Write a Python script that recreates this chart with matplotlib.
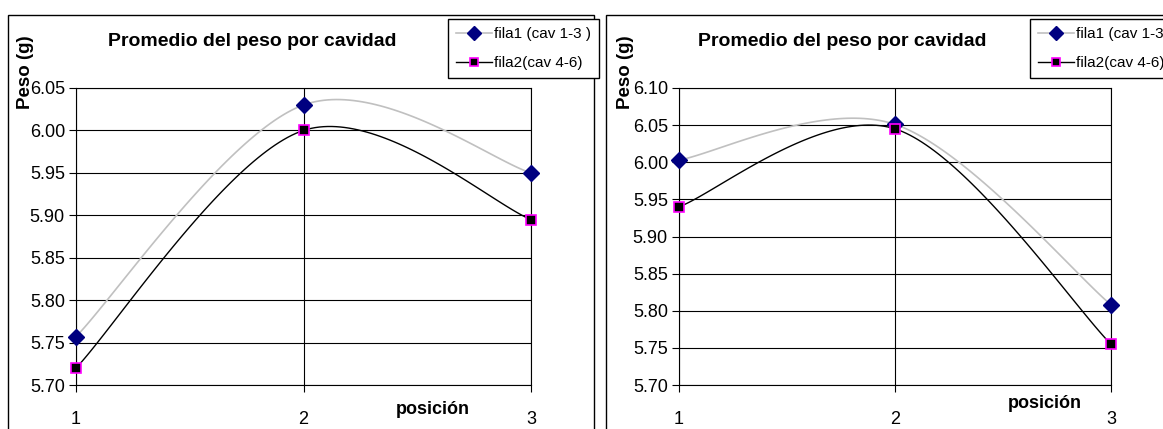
import numpy as np
import matplotlib
matplotlib.use("Agg")
import matplotlib.pyplot as plt
from matplotlib.lines import Line2D
from matplotlib.patches import Rectangle

plt.rcParams['font.family'] = ['Liberation Sans', 'DejaVu Sans']

# ---- data -------------------------------------------------------------
positions = [1, 2, 3]
series_names = ["fila1 (cav 1-3 )", "fila2(cav 4-6)"]

left_fila1 = [5.757, 6.030, 5.950]
left_fila2 = [5.720, 6.000, 5.895]

right_fila1 = [6.003, 6.051, 5.808]
right_fila2 = [5.940, 6.045, 5.755]

left_yticks = [5.70, 5.75, 5.80, 5.85, 5.90, 5.95, 6.00, 6.05]
right_yticks = [5.70, 5.75, 5.80, 5.85, 5.90, 5.95, 6.00, 6.05, 6.10]

title = "Promedio del peso por cavidad"
ylabel = "Peso (g)"
xlabel = "posición"

# ---- figure -----------------------------------------------------------
W, H = 1163, 429
fig = plt.figure(figsize=(W / 100, H / 100), dpi=100)
fig.patch.set_facecolor("white")


def px_rect(x0, y0, x1, y1):
    """Pixel box (top-left origin) -> figure-fraction [l, b, w, h]."""
    return [x0 / W, 1 - y1 / H, (x1 - x0) / W, (y1 - y0) / H]


def smooth(ax, x, y, n=60):
    """Cardinal (Catmull-Rom) Bezier smoothing done in display space."""
    pts = ax.transData.transform(np.column_stack([x, y]))
    P = np.vstack([pts[0], pts, pts[-1]])
    t = np.linspace(0, 1, n)[:, None]
    segs = []
    for i in range(1, len(P) - 2):
        p0, p1, p2, p3 = P[i - 1], P[i], P[i + 1], P[i + 2]
        c1 = p1 + (p2 - p0) / 6
        c2 = p2 - (p3 - p1) / 6
        segs.append((1 - t) ** 3 * p1 + 3 * (1 - t) ** 2 * t * c1
                    + 3 * (1 - t) * t ** 2 * c2 + t ** 3 * p2)
    curve = ax.transData.inverted().transform(np.vstack(segs))
    return curve[:, 0], curve[:, 1]


def panel(frame_box, plot_box, s1, s2, yticks, title_x, ylab_x,
          legend_box, xlab_pos):
    # outer chart frame
    fx0, fy0, fx1, fy1 = frame_box
    fig.patches.append(Rectangle((fx0 / W, 1 - fy1 / H), (fx1 - fx0) / W,
                                 (fy1 - fy0) / H, transform=fig.transFigure,
                                 fill=False, edgecolor="black", lw=1.0))

    ax = fig.add_axes(px_rect(*plot_box))
    ax.set_facecolor("white")
    ax.set_xlim(positions[0], positions[-1])
    ax.set_ylim(yticks[0], yticks[-1])
    ax.set_yticks(yticks)
    ax.set_yticklabels([f"{v:.2f}" for v in yticks])
    ax.set_xticks(positions)
    ax.set_xticklabels([str(p) for p in positions])
    ax.tick_params(axis="y", direction="out", length=5, width=0.8,
                   labelsize=13, pad=3)
    ax.tick_params(axis="x", direction="out", length=5, width=0.8,
                   labelsize=13, pad=14)
    ax.grid(True, color="black", lw=0.8)
    ax.set_axisbelow(True)
    for sp in ax.spines.values():
        sp.set_color("black")
        sp.set_linewidth(0.8)

    # smoothed lines
    xs, ys = smooth(ax, positions, s1)
    ax.plot(xs, ys, color="#c0c0c0", lw=1.2, zorder=3, clip_on=False)
    xs, ys = smooth(ax, positions, s2)
    ax.plot(xs, ys, color="black", lw=1.0, zorder=3, clip_on=False)
    # markers
    ax.plot(positions, s1, ls="none", marker="D", ms=8, mfc="#000080",
            mec="#000080", zorder=4, clip_on=False)
    ax.plot(positions, s2, ls="none", marker="s", ms=7, mfc="black",
            mec="#ff00ff", mew=1.2, zorder=4, clip_on=False)

    # title / axis titles
    fig.text(title_x / W, 1 - 42 / H, title, ha="center", va="center",
             fontsize=14, fontweight="bold")
    fig.text(ylab_x / W, 1 - 72 / H, ylabel, ha="center", va="center",
             rotation=90, fontsize=13.5, fontweight="bold")
    fig.text(xlab_pos[0] / W, 1 - xlab_pos[1] / H, xlabel, ha="center",
             va="center", fontsize=13, fontweight="bold")

    # legend
    handles = [
        Line2D([], [], color="#c0c0c0", lw=1.2, marker="D", ms=7,
               mfc="#000080", mec="#000080"),
        Line2D([], [], color="black", lw=1.0, marker="s", ms=6,
               mfc="black", mec="#ff00ff", mew=1.2),
    ]
    lx0, ly0 = legend_box
    leg = fig.legend(handles, series_names, loc="upper left",
                     bbox_to_anchor=(lx0 / W, 1 - ly0 / H),
                     bbox_transform=fig.transFigure, fontsize=11,
                     frameon=True, fancybox=False, shadow=False,
                     borderpad=0.55, handlelength=2.3, handletextpad=0.15,
                     labelspacing=0.95, borderaxespad=0.0)
    fr = leg.get_frame()
    fr.set_edgecolor("black")
    fr.set_linewidth(1.0)
    fr.set_alpha(1.0)
    return ax


panel(frame_box=(8, 15, 594, 440), plot_box=(76, 88, 531, 385),
      s1=left_fila1, s2=left_fila2, yticks=left_yticks,
      title_x=252, ylab_x=26, legend_box=(448, 19), xlab_pos=(433, 410))

panel(frame_box=(606, 15, 1180, 440), plot_box=(679, 88, 1111, 385),
      s1=right_fila1, s2=right_fila2, yticks=right_yticks,
      title_x=842, ylab_x=626, legend_box=(1030, 19), xlab_pos=(1045, 404))

fig.savefig("out.png", dpi=100)
